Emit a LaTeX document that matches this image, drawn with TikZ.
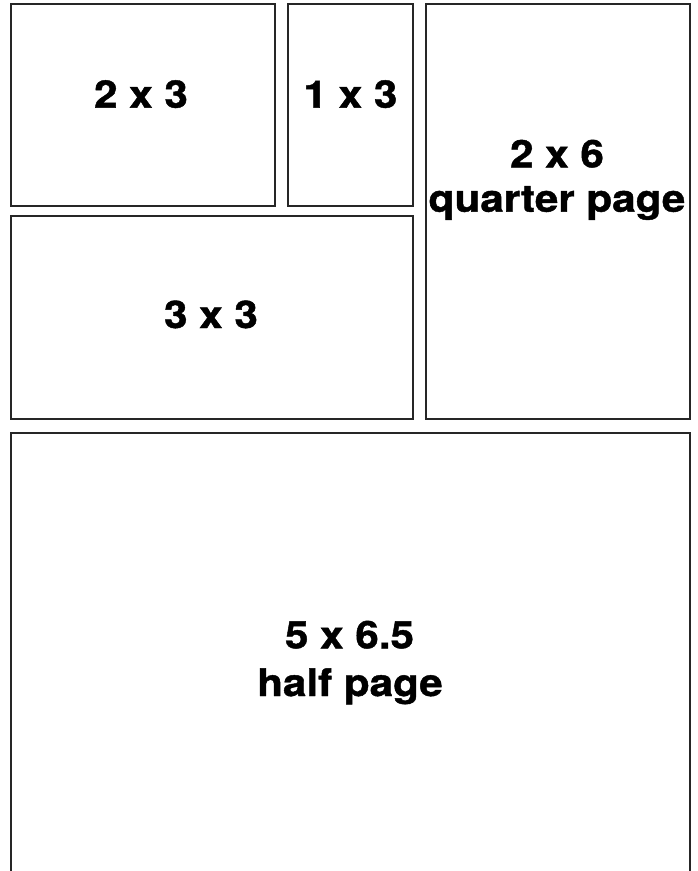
\documentclass[tikz,border=0pt]{standalone}
\usepackage{fontspec}
\setmainfont{TeX Gyre Heros}
\newfontfamily\lblfont{TeX Gyre Heros}[BoldFeatures={FakeStretch=1.11,FakeBold=1.2}]
\begin{document}
\begin{tikzpicture}[x=1pt,y=-1pt,
  frame/.style={draw=black!85,line width=1.3pt},
  lbl/.style={anchor=base,inner sep=0pt,font=\lblfont\fontsize{38}{45}\selectfont\bfseries}]
\useasboundingbox[fill=white] (0,0) rectangle (697,871);
\draw[frame] (11,4) rectangle (275,206);
\draw[frame] (288,4) rectangle (413,206);
\draw[frame] (426,4) rectangle (690,419);
\draw[frame] (11,216) rectangle (413,419);
\draw[frame] (11,871) -- (11,433) -- (690,433) -- (690,871);
\node[lbl] (a) at (141,107.7) {2 x 3};
\node[lbl] (b) at (350.5,107.7) {1 x 3};
\node[lbl] (c1) at (557,167.3) {2 x 6};
\node[lbl] (c2) at (557,211.7) {quarter page};
\node[lbl] (d) at (211,328) {3 x 3};
\node[lbl] (e1) at (349.5,648.3) {5 x 6.5};
\node[lbl] (e2) at (350,696) {half page};
\end{tikzpicture}
\end{document}
